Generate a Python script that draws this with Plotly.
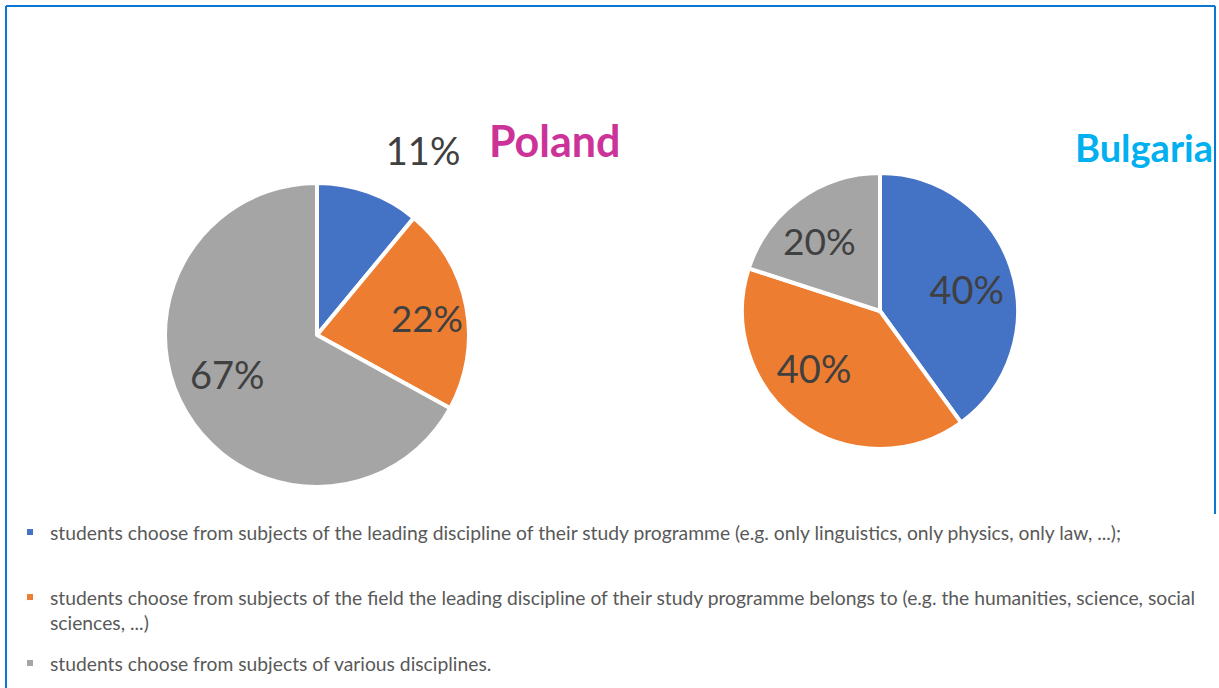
import plotly.graph_objects as go

categories = [
    "students choose from subjects of the leading discipline of their study programme (e.g. only linguistics, only physics, only law, ...);",
    "students choose from subjects of the field the leading discipline of their study programme belongs to (e.g. the humanities, science, social<br>sciences, ...)",
    "students choose from subjects of various disciplines.",
]
poland_values = [11, 22, 67]
bulgaria_values = [40, 40, 20]
colors = ["#4472C4", "#ED7D31", "#A5A5A5"]

W, H = 1219, 688
NB = "\u00a0"

def dom(cx, cy, r):
    return dict(x=[(cx - r) / W, (cx + r) / W], y=[1 - (cy + r) / H, 1 - (cy - r) / H])

fig = go.Figure()
fig.add_trace(go.Pie(
    labels=categories, values=poland_values, sort=False, direction="clockwise",
    rotation=0, marker=dict(colors=colors, line=dict(color="white", width=4)),
    texttemplate=["<span style='font-size:38px'>%{percent:.0%}</span><br> ",
                  NB * 4 + "%{percent:.0%}",
                  "%{percent:.0%}" + NB * 5],
    textposition=["outside", "inside", "inside"],
    insidetextorientation="horizontal",
    textfont=dict(family="Lato", size=[21, 38, 38], color="#404040"),
    domain=dom(317, 335, 152), name="Poland", showlegend=False,
))
fig.add_trace(go.Pie(
    labels=categories, values=bulgaria_values, sort=False, direction="clockwise",
    rotation=0, marker=dict(colors=colors, line=dict(color="white", width=4)),
    texttemplate=[NB * 4 + "%{percent:.0%}", "%{percent:.0%}" + NB * 5, "%{percent:.0%}" + NB * 2],
    textposition="inside",
    insidetextorientation="horizontal",
    textfont=dict(family="Lato", size=38, color="#404040"),
    domain=dom(880, 311, 138), name="Bulgaria", showlegend=False,
))

# legend proxies (one legend per category so the spacing matches)
legend_ids = ["legend", "legend2", "legend3"]
legend_tops = [513, 578, 644]
for lab, col, lid in zip(categories, colors, legend_ids):
    fig.add_trace(go.Scatter(x=[None], y=[None], mode="markers", name=lab,
                             marker=dict(symbol="square", size=6, color=col),
                             legend=lid, showlegend=True, hoverinfo="skip"))

leg_common = dict(xanchor="left", yanchor="top", valign="top", bgcolor="rgba(0,0,0,0)",
                  font=dict(family="Lato", size=19.3, color="#595959"))

fig.add_annotation(text="<b>Poland</b>", x=487 / W, y=1 - 140 / H, xref="paper", yref="paper",
                   xanchor="left", yanchor="middle", showarrow=False,
                   font=dict(family="Lato", size=43, color="#CC3399"))
fig.add_annotation(text="<b>Bulgaria</b>", x=1073 / W, y=1 - 147 / H, xref="paper", yref="paper",
                   xanchor="left", yanchor="middle", showarrow=False,
                   font=dict(family="Lato", size=38, color="#00B0F0"))

line_col = "#0A78D2"
fig.add_shape(type="line", xref="paper", yref="paper", x0=6 / W, x1=1215 / W, y0=1 - 6 / H, y1=1 - 6 / H,
              line=dict(color=line_col, width=2))
fig.add_shape(type="line", xref="paper", yref="paper", x0=6 / W, x1=6 / W, y0=1 - 6 / H, y1=0,
              line=dict(color=line_col, width=2))
fig.add_shape(type="line", xref="paper", yref="paper", x0=1215 / W, x1=1215 / W, y0=1 - 6 / H, y1=1 - 514 / H,
              line=dict(color=line_col, width=2))

fig.update_layout(
    width=W, height=H, margin=dict(l=0, r=0, t=0, b=0),
    paper_bgcolor="white", plot_bgcolor="white",
    font=dict(family="Lato", color="#595959"),
    xaxis=dict(visible=False), yaxis=dict(visible=False),
    legend=dict(x=10 / W, y=1 - legend_tops[0] / H, **leg_common),
    legend2=dict(x=10 / W, y=1 - legend_tops[1] / H, **leg_common),
    legend3=dict(x=10 / W, y=1 - legend_tops[2] / H, **leg_common),
)
fig.write_html("out.html", config={"displayModeBar": False},
               post_script="document.body.style.margin='0';")
